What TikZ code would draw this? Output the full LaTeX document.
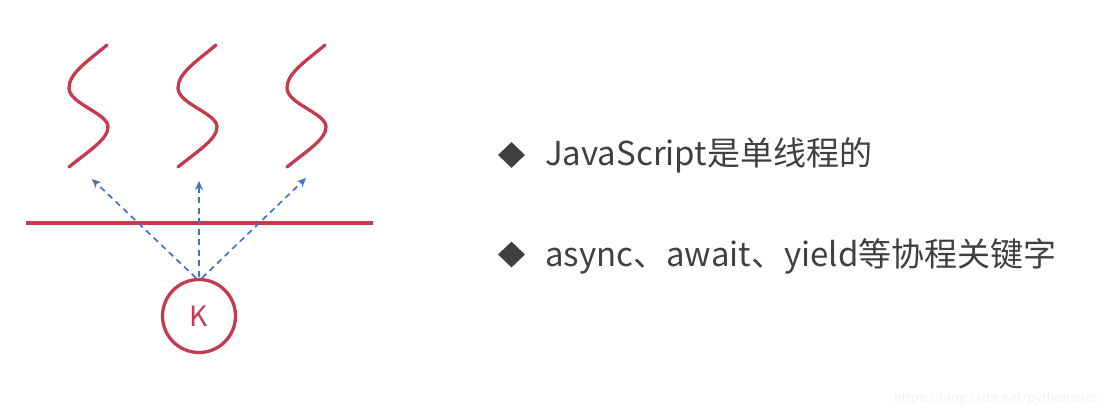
\documentclass[tikz,border=0pt]{standalone}
\usepackage{fontspec}
\setmainfont{Noto Sans CJK SC}
\usetikzlibrary{arrows.meta,shapes.geometric}
\definecolor{wavered}{HTML}{C43B4E}
\definecolor{arrowblue}{HTML}{4472C4}
\definecolor{textgray}{HTML}{404040}
\definecolor{markgray}{HTML}{F2F2F2}
\tikzset{
  redline/.style={draw=wavered, line width=3.3pt, line cap=round},
  dasharrow/.style={draw=arrowblue, line width=1.7pt, dash pattern=on 6pt off 4.5pt, -{Stealth[length=9pt,width=8pt]}},
  bullet/.style={diamond, fill=textgray, inner sep=0pt, minimum width=27pt, minimum height=26pt},
  itemtext/.style={anchor=base west, inner sep=0pt, text=textgray, font=\fontsize{33}{38}\selectfont},
}
\begin{document}
\begin{tikzpicture}[x=1pt,y=-1pt]
\useasboundingbox (0,0) rectangle (1112,414);
% waves
\foreach \s in {0,109,218}{
  \draw[redline, shift={(\s,0)}] (69,167) .. controls (90,150) and (108,139) .. (108,127)
     .. controls (108,113) and (69,104) .. (69,88)
     .. controls (69,73) and (88,61) .. (107,45);
}
% horizontal line
\coordinate (hl) at (26,223);
\coordinate (hr) at (373,223);
\draw[redline, line cap=butt] (hl) -- (hr);
% K node
\node[circle, draw=wavered, line width=3.3pt, minimum size=73pt, inner sep=0pt,
      text=wavered, font=\fontsize{28}{32}\selectfont] (K) at (199,316) {K};
% arrows
\coordinate (a1) at (92,179);
\coordinate (a2) at (199,181);
\coordinate (a3) at (306,178);
\coordinate (s1) at (196,278);
\coordinate (s2) at (199,277);
\coordinate (s3) at (202,278);
\draw[dasharrow] (s1) -- (a1);
\draw[dasharrow] (s2) -- (a2);
\draw[dasharrow] (s3) -- (a3);
% bullets
\node[bullet] (b1) at (511.5,155) {};
\node[bullet] (b2) at (511.5,254.5) {};
\node[itemtext] (t1) at (545,166) {JavaScript是单线程的};
\node[itemtext] (t2) at (545,267) {async、await、yield等协程关键字};
% watermark
\node[anchor=base east, inner sep=0pt, text=markgray, font=\fontsize{13}{15}\selectfont] (wm) at (1098,402) {https://blog.csdn.net/pythonstrat};
\end{tikzpicture}
\end{document}
